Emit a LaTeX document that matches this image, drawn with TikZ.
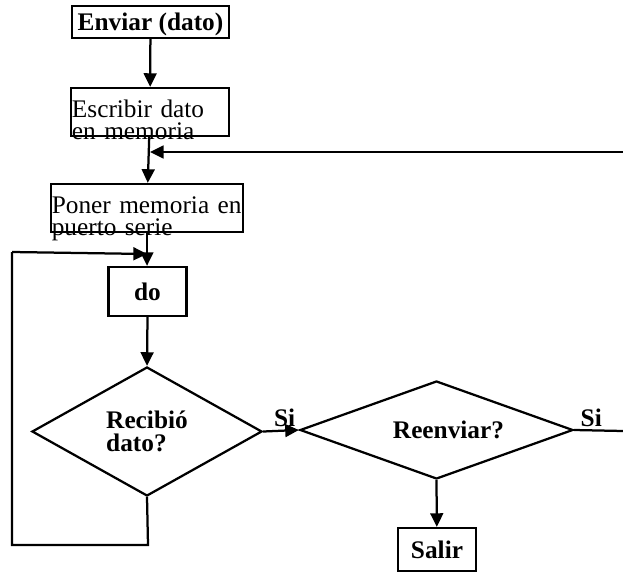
\documentclass[tikz,border=0pt]{standalone}
\usepackage{fontspec}
\setmainfont{Liberation Serif}
\usetikzlibrary{arrows.meta,shapes.geometric}
\tikzset{>={Triangle[length=0.34cm,width=0.32cm]}}
\tikzset{
  box/.style={draw, rectangle, line width=1.6pt, inner sep=2pt,
    font=\fontsize{18}{16}\selectfont},
  twoline/.style={align=left, inner xsep=0.5pt, text height=15pt, text depth=7.5pt},
  decision/.style={draw, diamond, line width=1.6pt, inner sep=0pt,
    align=left, font=\fontsize{18}{16}\selectfont\bfseries},
  flow/.style={->, line width=1.6pt},
  line/.style={line width=1.6pt},
  silabel/.style={inner sep=0pt, above=2pt, font=\fontsize{18}{16}\selectfont\bfseries}
}

\begin{document}
\begin{tikzpicture}[x=0.025cm,y=-0.025cm]
    \useasboundingbox (0,0) rectangle (623,578);
    % boxes
    \node[box, minimum width=3.925cm, minimum height=0.8cm,
          text depth=0pt, font=\fontsize{18}{16}\selectfont\bfseries]
          (enviar) at (150.5,22) {Enviar (dato)};
    \node[box, twoline, minimum width=3.95cm, minimum height=1.2cm, text width=3.9cm]
          (escribir) at (150,112) {Escribir dato\\en memoria};
    \node[box, twoline, minimum width=4.8cm, minimum height=1.2cm, text width=4.76cm]
          (poner) at (147,208) {Poner memoria en\\puerto serie};
    \node[box, minimum width=1.95cm, minimum height=1.225cm,
          font=\fontsize{18}{16}\selectfont\bfseries]
          (do) at (147.5,291.5) {do\hspace{0.75cm}};
    \node[decision, shape aspect=1.78, minimum width=5.75cm, minimum height=3.225cm]
          (recibio) at (147,431.5) {Recibió\hspace{0.5cm}\\dato?};
    \node[decision, shape aspect=2.8, minimum width=6.825cm, minimum height=2.45cm]
          (reenviar) at (436.5,430) {\hspace{0.6cm}Reenviar?};
    \node[box, minimum width=1.95cm, minimum height=1.075cm,
          font=\fontsize{18}{16}\selectfont\bfseries]
          (salir) at (437,549.5) {Salir};
    % free ends
    \coordinate (backin) at (623,152);
    \coordinate (siout) at (623,431);
    \coordinate (loopy) at (148,545);
    \coordinate (loopleft) at (12,545);
    \coordinate (loopup) at (12,252);
    % connectors
    \draw[flow] (enviar) -- (escribir);
    \draw[flow] (escribir) -- (poner);
    \draw[flow] (backin) -- (escribir.south |- backin);
    \draw[flow] (poner.south) -- (do.north -| poner.south);
    \draw[flow] (loopup) -- (poner.south |- 0,254);
    \draw[flow] (do.south) -- (recibio.north);
    \draw[line] (recibio.south) -- (loopy) -- (loopleft) -- (loopup);
    \draw[flow] (recibio.east) -- node[silabel, pos=0.6] {Si} (reenviar.west);
    \draw[line] (reenviar.east) -- node[silabel, pos=0.35] {Si} (siout);
    \draw[flow] (reenviar.south) -- (salir);
\end{tikzpicture}
\end{document}
